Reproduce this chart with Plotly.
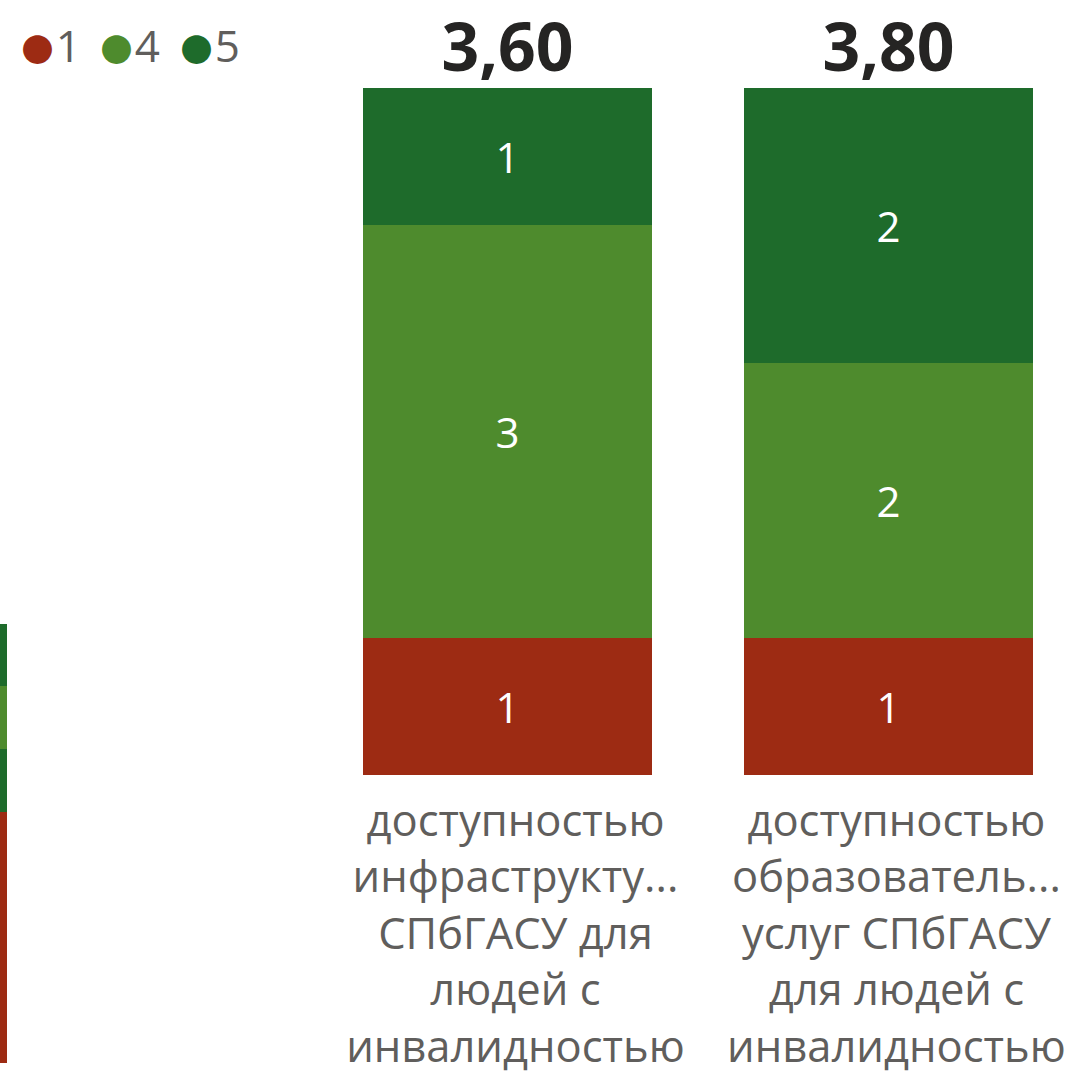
import plotly.graph_objects as go

# ---- data ----
categories = [
    "доступностью инфраструктуры СПбГАСУ для людей с инвалидностью",
    "доступностью образовательных услуг СПбГАСУ для людей с инвалидностью",
]
tick_labels = [
    "доступностью<br>инфраструкту...<br>СПбГАСУ для<br>людей с<br>инвалидностью",
    "доступностью<br>образователь...<br>услуг СПбГАСУ<br>для людей с<br>инвалидностью",
]
score_names = ["1", "4", "5"]
score_values = [1, 4, 5]
counts_1 = [1, 1]
counts_4 = [3, 2]
counts_5 = [1, 2]
series_counts = [counts_1, counts_4, counts_5]
series_colors = ["#9D2B13", "#4E8B2D", "#1E6B2B"]

# partially visible bar of the neighbouring chart (left edge)
left_bar_values = [4, 1, 1, 1]
left_bar_colors = ["#9D2B13", "#1E6B2B", "#4E8B2D", "#1E6B2B"]

# averages shown above each bar
totals = [sum(s[i] for s in series_counts) for i in range(len(categories))]
averages = [
    sum(v * s[i] for v, s in zip(score_values, series_counts)) / totals[i]
    for i in range(len(categories))
]
avg_text = [f"{a:.2f}".replace(".", ",") for a in averages]

FONT = "Open Sans"
GREY = "#605E5C"

fig = go.Figure()

for name, counts, color in zip(score_names, series_counts, series_colors):
    fig.add_trace(go.Bar(
        x=categories, y=counts, name=name, marker=dict(color=color, line=dict(width=0)),
        text=counts, texttemplate="%{text}", textposition="inside",
        insidetextanchor="middle", textangle=0,
        textfont=dict(family=FONT, size=42, color="white"),
        showlegend=False, hoverinfo="skip",
    ))

fig.add_trace(go.Scatter(
    x=categories, y=totals, mode="text", text=avg_text,
    textposition="top center", cliponaxis=False,
    textfont=dict(family=FONT, size=66, color="#252423", weight="bold"),
    showlegend=False, hoverinfo="skip",
))

for v, c in zip(left_bar_values, left_bar_colors):
    fig.add_trace(go.Bar(
        x=[0], y=[v], width=1, xaxis="x2", yaxis="y2",
        marker=dict(color=c, line=dict(width=0)),
        showlegend=False, hoverinfo="skip",
    ))

# legend entries with circle glyphs, one small legend per entry
legend_ids = ["legend", "legend2", "legend3"]
for name, color, lid in zip(score_names, series_colors, legend_ids):
    fig.add_trace(go.Scatter(
        x=[None], y=[None], mode="markers",
        marker=dict(size=1, color="rgba(0,0,0,0)"),
        name=(f'<span style="color:{color};font-family:\'Noto Sans CJK SC\';font-size:32px">●</span>'
              f'<span style="font-size:8px"> </span>{name}'),
        showlegend=True, hoverinfo="skip", legend=lid,
    ))

legend_common = dict(
    orientation="h", y=0.991, xanchor="left", yanchor="top",
    font=dict(family=FONT, size=44, color=GREY),
    itemwidth=30,
    bgcolor="rgba(0,0,0,0)", itemclick=False, itemdoubleclick=False,
)

fig.update_layout(
    width=1069, height=1089,
    margin=dict(l=0, r=0, t=0, b=0, autoexpand=False),
    paper_bgcolor="white", plot_bgcolor="rgba(0,0,0,0)",
    barmode="stack", bargap=0.242,
    showlegend=True,
    legend=dict(x=-0.0172, **legend_common),
    legend2=dict(x=0.0567, **legend_common),
    legend3=dict(x=0.1315, **legend_common),
    xaxis=dict(
        type="category", range=[-1.332, 1.474],
        tickvals=categories, ticktext=tick_labels,
        showgrid=False, zeroline=False, showline=False, ticks="",
        tickfont=dict(family=FONT, size=43.5, color=GREY),
        ticklabelstandoff=16, ticklabelshift=8,
        fixedrange=True,
    ),
    yaxis=dict(domain=[0.2883, 1], range=[0, 5.64], visible=False, fixedrange=True),
    xaxis2=dict(anchor="y2", domain=[0, 1], range=[0.4816, 3.2874], visible=False, fixedrange=True),
    yaxis2=dict(anchor="x2", domain=[0.0239, 1], range=[0, 16.94], visible=False, fixedrange=True),
)

fig.write_html(
    "out.html",
    config={"displayModeBar": False},
    post_script="document.body.style.margin='0';document.body.style.overflow='hidden';",
)
